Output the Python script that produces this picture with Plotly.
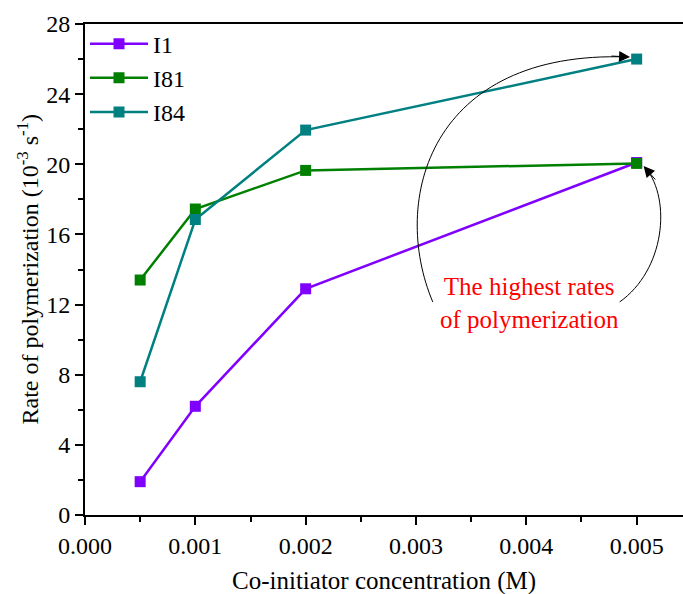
import plotly.graph_objects as go

# ---- data ----
concentration = [0.0005, 0.001, 0.002, 0.005]
series_names = ["I1", "I81", "I84"]
rate_I1 = [1.9, 6.2, 12.9, 20.1]
rate_I81 = [13.4, 17.45, 19.65, 20.05]
rate_I84 = [7.6, 16.85, 21.95, 26.0]
series_colors = ["#8000FF", "#008000", "#008080"]
x_ticks = [0.0, 0.001, 0.002, 0.003, 0.004, 0.005]
y_ticks = [0, 4, 8, 12, 16, 20, 24, 28]

FONT = "Liberation Serif"

fig = go.Figure()
for name, vals, col in zip(series_names, [rate_I1, rate_I81, rate_I84], series_colors):
    fig.add_trace(go.Scatter(
        x=concentration, y=vals, name=name, mode="lines+markers",
        line=dict(color=col, width=2.5),
        marker=dict(symbol="square", size=11, color=col),
    ))

# curved arrows (paths in data coordinates)
fig.add_shape(type="path", xref="x", yref="y",
              path="M 0.003152,12.15 C 0.002763,17.96 0.003125,26.52 0.004918,26.12",
              line=dict(color="black", width=1))
fig.add_shape(type="path", xref="x", yref="y",
              path="M 0.004846,12.15 C 0.005254,13.97 0.005317,17.96 0.005082,19.79",
              line=dict(color="black", width=1))

# arrowheads
fig.add_annotation(x=0.00494, y=26.12, xref="x", yref="y", ax=-20, ay=-1,
                   text="", showarrow=True, arrowhead=2, arrowsize=2.2,
                   arrowwidth=1, arrowcolor="black")
fig.add_annotation(x=0.005063, y=19.9, xref="x", yref="y", ax=13, ay=15,
                   text="", showarrow=True, arrowhead=2, arrowsize=2.2,
                   arrowwidth=1, arrowcolor="black")

fig.add_annotation(x=0.004025, y=12.09, xref="x", yref="y",
                   text="The highest rates<br>of polymerization", showarrow=False,
                   font=dict(family=FONT, size=25, color="#FF0000"))

# axis titles as annotations for exact placement
fig.add_annotation(x=0.5, y=0.0, xref="paper", yref="paper", yshift=-66,
                   text="Co-initiator concentration (M)", showarrow=False,
                   yanchor="middle", font=dict(family=FONT, size=25, color="black"))
fig.add_annotation(x=0, y=0.5, xref="paper", yref="paper", xshift=-58,
                   text="Rate of polymerization (10<sup>-3</sup> s<sup>-1</sup>)",
                   textangle=-90, showarrow=False, xanchor="center",
                   font=dict(family=FONT, size=24, color="black"))

fig.update_layout(
    width=683, height=594,
    margin=dict(l=85, r=0, t=24, b=79, autoexpand=False),
    paper_bgcolor="white", plot_bgcolor="white",
    font=dict(family=FONT, size=24, color="black"),
    showlegend=True,
    legend=dict(x=0.0, y=1.005, xanchor="left", yanchor="top",
                bgcolor="rgba(0,0,0,0)", font=dict(family=FONT, size=24),
                tracegroupgap=0, itemwidth=58),
    xaxis=dict(
        range=[0, 0.00542], tickvals=x_ticks, tickformat=".3f",
        showgrid=False, zeroline=False, automargin=False,
        showline=True, linecolor="black", linewidth=2, mirror=True,
        ticks="outside", ticklen=8, tickwidth=2, tickcolor="black",
        minor=dict(dtick=0.0005, ticks="outside", ticklen=5, tickwidth=2, tickcolor="black"),
        tickfont=dict(family=FONT, size=24),
    ),
    yaxis=dict(
        range=[0, 28], tickvals=y_ticks,
        showgrid=False, zeroline=False, automargin=False,
        showline=True, linecolor="black", linewidth=2,
        ticks="outside", ticklen=8, tickwidth=2, tickcolor="black",
        minor=dict(dtick=2, ticks="outside", ticklen=5, tickwidth=2, tickcolor="black"),
        tickfont=dict(family=FONT, size=24),
    ),
)

fig.write_html("out.html", config={"displayModeBar": False},
               post_script="document.body.style.margin='0px';document.body.style.padding='0px';")
